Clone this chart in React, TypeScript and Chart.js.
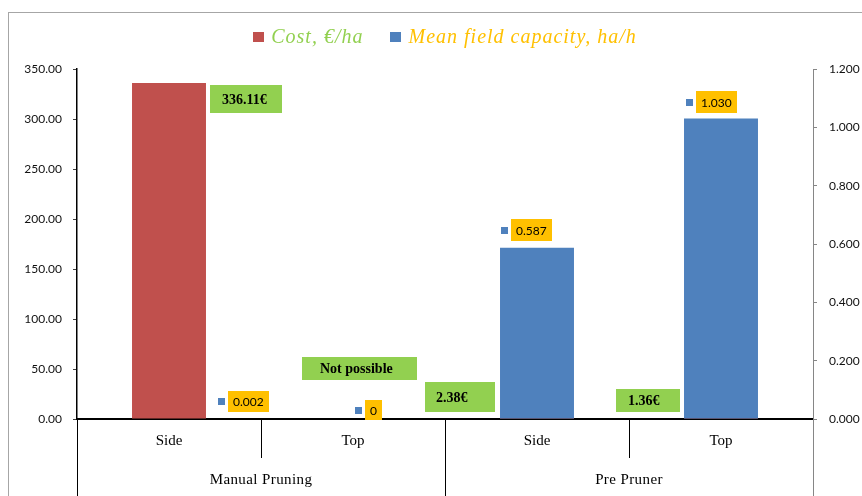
import React, { useEffect, useRef } from "react";
import { Chart, registerables } from "chart.js";

Chart.register(...registerables);

// ---------------- data ----------------
const subCategories = ["Side", "Top", "Side", "Top"];
const groupLabels = ["Manual Pruning", "Pre Pruner"];
const seriesNames = ["Cost, €/ha", "Mean field capacity, ha/h"];
const costValues = [336.11, 0, 2.38, 1.36];
const costLabels = ["336.11€", "Not possible", "2.38€", "1.36€"];
const capacityValues = [0.002, 0, 0.587, 1.03];
const capacityLabels = ["0.002", "0", "0.587", "1.030"];
const costAxis = { min: 0, max: 350, step: 50, decimals: 2 };
const capacityAxis = { min: 0, max: 1.2, step: 0.2, decimals: 3 };

// ---------------- styles ----------------
const RED = "#C0504D";
const BLUE = "#4F81BD";
const GREEN = "#92D050";
const GOLD = "#FFC000";
const LEGEND_TEXT_COLORS = [GREEN, GOLD];
const SERIF = '"Liberation Serif", "Times New Roman", serif';
const SANS = 'Lato, "Open Sans", sans-serif';

// label box placement relative to bar (center x, top y)
const COST_LABEL_LAYOUT = [
  { dx: 77, dy: 16, w: 72, h: 28, tx: 12 },
  { dx: 6.5, dy: -50.5, w: 115, h: 23, tx: 18 },
  { dx: -77, dy: -19.6, w: 70, h: 30, tx: 11 },
  { dx: -73, dy: -17, w: 64, h: 23, tx: 12 },
];
const CAP_LABEL_LAYOUT = [
  { dx: 79, dy: -17, h: 21 },
  { dx: 20, dy: -9, h: 20 },
  { dx: -6, dy: -18, h: 22 },
  { dx: -4.5, dy: -16.6, h: 22 },
];

const framePlugin = {
  id: "frame",
  beforeDraw(chart: any) {
    const ctx = chart.ctx;
    ctx.save();
    ctx.fillStyle = "#ffffff";
    ctx.fillRect(0, 0, chart.width, chart.height);
    ctx.strokeStyle = "#a6a6a6";
    ctx.lineWidth = 1;
    ctx.strokeRect(8.5, 12.5, chart.width + 20, chart.height + 20);
    ctx.restore();
  },
};

const legendPlugin = {
  id: "customLegend",
  afterDraw(chart: any) {
    const ctx = chart.ctx;
    const area = chart.chartArea;
    ctx.save();
    ctx.font = `italic 20px ${SERIF}`;
    (ctx as any).letterSpacing = "1px";
    const items = chart.data.datasets.map((ds: any, i: number) => ({
      text: ds.label,
      box: ds.backgroundColor,
      color: LEGEND_TEXT_COLORS[i],
      w: ctx.measureText(ds.label).width,
    }));
    const boxW = 11, boxH = 10, boxGap = 7, itemGap = 27;
    const total = items.reduce((s: number, it: any) => s + boxW + boxGap + it.w, 0) + itemGap * (items.length - 1);
    let x = (area.left + area.right) / 2 - total / 2;
    const cy = 37;
    ctx.textBaseline = "middle";
    ctx.textAlign = "left";
    for (const it of items) {
      ctx.fillStyle = it.box;
      ctx.fillRect(Math.round(x), cy - 5, boxW, boxH);
      x += boxW + boxGap;
      ctx.fillStyle = it.color;
      ctx.fillText(it.text, x, cy + 1);
      x += it.w + itemGap;
    }
    ctx.restore();
  },
};

const axisDecorPlugin = {
  id: "axisDecor",
  afterDraw(chart: any) {
    const ctx = chart.ctx;
    const xs = chart.scales.x;
    const top = xs.top;
    const bottom = chart.height;
    const n = subCategories.length;
    const centers = subCategories.map((_, i) => xs.getPixelForValue(i));
    const bounds: number[] = [xs.left];
    for (let i = 0; i < n - 1; i++) bounds.push((centers[i] + centers[i + 1]) / 2);
    bounds.push(xs.right);
    ctx.save();
    ctx.lineWidth = 1;
    const per = n / groupLabels.length;
    bounds.forEach((bx, i) => {
      const isGroup = i % per === 0;
      const isLast = i === bounds.length - 1;
      ctx.strokeStyle = isLast ? "#868686" : "#000000";
      const x = Math.round(bx) + 0.5;
      ctx.beginPath();
      ctx.moveTo(x, top);
      ctx.lineTo(x, isGroup ? bottom : top + 39);
      ctx.stroke();
    });
    ctx.fillStyle = "#000";
    ctx.font = `15px ${SERIF}`;
    (ctx as any).letterSpacing = "0.4px";
    ctx.textAlign = "center";
    ctx.textBaseline = "middle";
    groupLabels.forEach((g, gi) => {
      const l = bounds[gi * per];
      const r = bounds[(gi + 1) * per];
      ctx.fillText(g, (l + r) / 2, 480);
    });
    ctx.restore();
  },
};

const dataLabelPlugin = {
  id: "boxLabels",
  afterDraw(chart: any) {
    const ctx = chart.ctx;
    ctx.save();
    ctx.textBaseline = "middle";
    ctx.textAlign = "left";
    const costMeta = chart.getDatasetMeta(0);
    costMeta.data.forEach((el: any, i: number) => {
      const p = COST_LABEL_LAYOUT[i];
      const left = Math.round(el.x + p.dx - p.w / 2);
      const top = Math.round(el.y + p.dy - p.h / 2);
      ctx.fillStyle = GREEN;
      ctx.fillRect(left, top, p.w, p.h);
      ctx.fillStyle = "#000";
      ctx.font = `bold 14px ${SERIF}`;
      ctx.fillText(costLabels[i], left + p.tx, top + p.h / 2 + 1);
    });
    const capMeta = chart.getDatasetMeta(1);
    ctx.font = `12px ${SANS}`;
    capMeta.data.forEach((el: any, i: number) => {
      const p = CAP_LABEL_LAYOUT[i];
      const tw = ctx.measureText(capacityLabels[i]).width;
      const w = Math.round(tw + 10);
      const left = Math.round(el.x + p.dx - w / 2);
      const top = Math.round(el.y + p.dy - p.h / 2);
      ctx.fillStyle = BLUE;
      ctx.fillRect(left - 10, Math.round(top + p.h / 2 - 3.5), 7, 7);
      ctx.fillStyle = GOLD;
      ctx.fillRect(left, top, w, p.h);
      ctx.fillStyle = "#000";
      ctx.fillText(capacityLabels[i], left + 5, top + p.h / 2 + 1);
    });
    ctx.restore();
  },
};

export default function App() {
  const ref = useRef<HTMLCanvasElement>(null);
  useEffect(() => {
    const canvas = ref.current;
    if (!canvas) return;
    const chart = new Chart(canvas, {
      type: "bar",
      data: {
        labels: subCategories,
        datasets: [
          {
            label: seriesNames[0],
            data: costValues,
            backgroundColor: RED,
            yAxisID: "y",
            grouped: false,
            order: 1,
            categoryPercentage: 1,
            barPercentage: 0.402,
          } as any,
          {
            label: seriesNames[1],
            data: capacityValues,
            backgroundColor: BLUE,
            yAxisID: "y1",
            grouped: false,
            order: 0,
            categoryPercentage: 1,
            barPercentage: 0.402,
          } as any,
        ],
      },
      options: {
        animation: false,
        responsive: false,
        layout: { padding: { top: 69, left: 0, right: 0, bottom: 0 } },
        plugins: { legend: { display: false }, tooltip: { enabled: false } },
        scales: {
          x: {
            type: "category",
            offset: true,
            z: 1,
            grid: { display: false, drawTicks: false },
            border: { display: true, color: "#000000", width: 2 },
            ticks: {
              color: "#000",
              font: { family: SERIF, size: 15 },
              padding: 13,
              maxRotation: 0,
              autoSkip: false,
            },
            afterFit: (s: any) => {
              s.height = 77;
            },
          },
          y: {
            type: "linear",
            position: "left",
            min: costAxis.min,
            max: costAxis.max,
            ticks: {
              stepSize: costAxis.step,
              color: "#111",
              font: { family: SANS, size: 12 },
              padding: 11,
              callback: (v: any) => Number(v).toFixed(costAxis.decimals),
            },
            grid: { drawOnChartArea: false, tickLength: 4, color: "#404040" },
            border: { color: "#000000", width: 1.5 },
            afterFit: (s: any) => {
              s.width = 77;
            },
          },
          y1: {
            type: "linear",
            position: "right",
            min: capacityAxis.min,
            max: capacityAxis.max,
            ticks: {
              stepSize: capacityAxis.step,
              color: "#111",
              font: { family: SANS, size: 12 },
              padding: 12,
              callback: (v: any) => Number(v).toFixed(capacityAxis.decimals),
            },
            grid: { drawOnChartArea: false, tickLength: 4, color: "#868686" },
            border: { color: "#868686", width: 1 },
            afterFit: (s: any) => {
              s.width = 49;
            },
          },
        },
      } as any,
      plugins: [framePlugin, axisDecorPlugin, dataLabelPlugin, legendPlugin],
    });
    return () => chart.destroy();
  }, []);
  return (
    <div style={{ position: "fixed", left: 0, top: 0, width: 862, height: 496, background: "#fff" }}>
      <canvas ref={ref} width={862} height={496} style={{ display: "block", width: 862, height: 496 }} />
    </div>
  );
}
